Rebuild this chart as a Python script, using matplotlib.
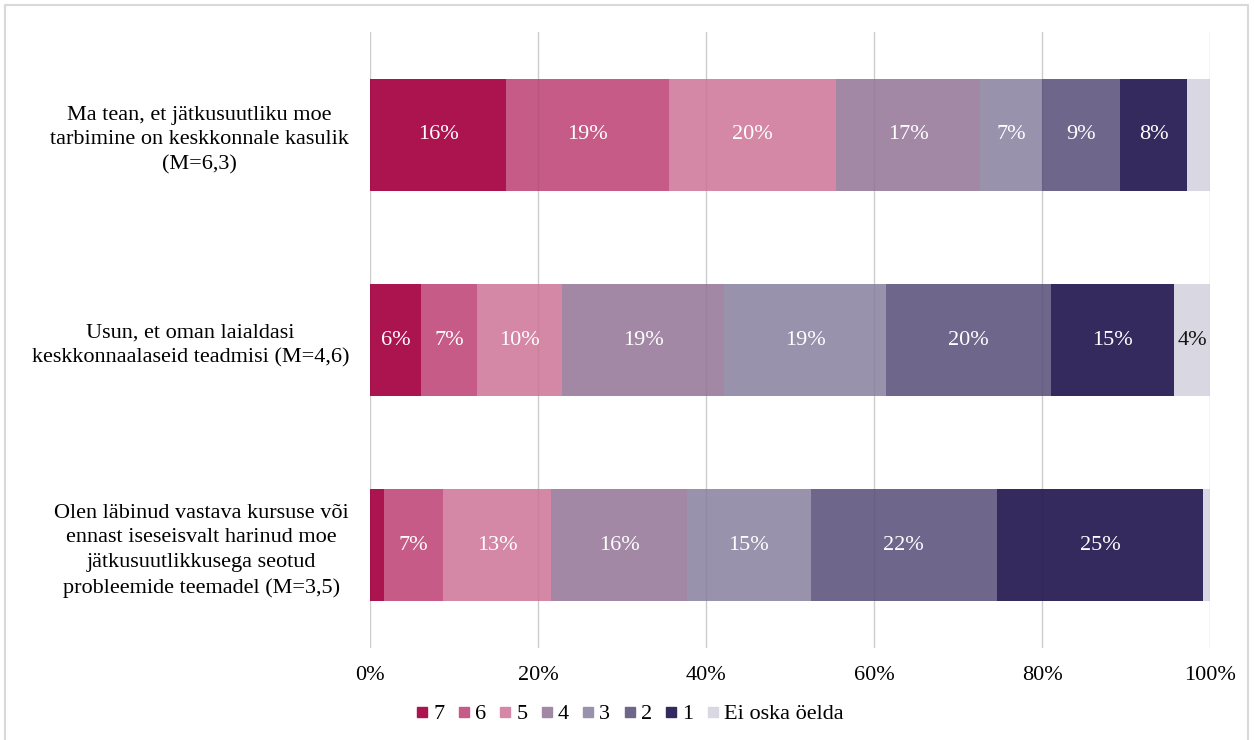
import numpy as np
import matplotlib
matplotlib.use("Agg")
import matplotlib.pyplot as plt
from matplotlib.lines import Line2D

plt.rcParams["font.family"] = ["Liberation Serif", "DejaVu Serif"]

# ── Data ──────────────────────────────────────────────────────────
categories = [
    "Ma tean, et jätkusuutliku moe\ntarbimine on keskkonnale kasulik\n(M=6,3)",
    "Usun, et oman laialdasi\nkeskkonnaalaseid teadmisi (M=4,6)",
    "Olen läbinud vastava kursuse või\nennast iseseisvalt harinud moe\njätkusuutlikkusega seotud\nprobleemide teemadel (M=3,5)",
]
series_names = ["7", "6", "5", "4", "3", "2", "1", "Ei oska öelda"]
# shares (%) per category, one list per answer option
s7 = [16.2, 6.1, 1.7]
s6 = [19.4, 6.6, 7.0]
s5 = [19.9, 10.2, 12.9]
s4 = [17.1, 19.3, 16.1]
s3 = [7.4, 19.2, 14.8]
s2 = [9.3, 19.7, 22.1]
s1 = [8.0, 14.6, 24.6]
s_ei = [2.7, 4.3, 0.8]
series = [s7, s6, s5, s4, s3, s2, s1, s_ei]

colors = ["#AC1450", "#C55B86", "#D588A5", "#A388A6",
          "#9892AC", "#6E678B", "#342A5E", "#D9D8E2"]
label_colors = ["white"] * 7 + ["#111111"]
FS = 16

# ── Figure ────────────────────────────────────────────────────────
fig = plt.figure(figsize=(12.54, 7.40), dpi=100)
ax = fig.add_axes([370 / 1254, 1 - 648 / 740, 840 / 1254, 616 / 740])

y = np.arange(len(categories))
left = np.zeros(len(categories))
for vals, name, col, lcol in zip(series, series_names, colors, label_colors):
    vals = np.array(vals)
    ax.barh(y, vals, left=left, height=0.545, color=col, label=name, zorder=3)
    for yi, v, l in zip(y, vals, left):
        if v >= 3:
            ax.text(l + v / 2, yi, f"{v:.0f}%", ha="center", va="center",
                    color=lcol, fontsize=FS, zorder=5)
    left += vals

ticks = np.arange(0, 101, 20)
ax.set_xlim(0, 100)
ax.set_ylim(len(categories) - 0.5, -0.5)
ax.set_xticks(ticks)
ax.set_xticklabels([f"{t}%" for t in ticks], fontsize=FS)
ax.set_yticks(y)
ax.set_yticklabels(categories, fontsize=FS, multialignment="center",
                   linespacing=1.4)
ax.tick_params(axis="both", length=0)
ax.tick_params(axis="x", pad=13)
ax.tick_params(axis="y", pad=15)
ax.grid(axis="x", color="#D9D9D9", linewidth=1, zorder=0)
# faint gridlines showing through the bars
for t in ticks:
    ax.axvline(t, color="black", alpha=0.05, linewidth=1, zorder=4)
for sp in ax.spines.values():
    sp.set_visible(False)

handles = [Line2D([], [], marker="s", linestyle="none", markersize=7.5,
                  markerfacecolor=c, markeredgecolor=c) for c in colors]
ax.legend(handles, series_names, loc="center",
          bbox_to_anchor=(630 / 1254, 1 - 714 / 740),
          bbox_transform=fig.transFigure, ncol=8, frameon=False,
          fontsize=FS, handlelength=0.5, handletextpad=0.25,
          columnspacing=0.62)

# light frame round the chart (bottom edge falls outside the image)
frame_x = [5 / 1254, 5 / 1254, 1248 / 1254, 1248 / 1254]
frame_y = [-0.05, 1 - 5 / 740, 1 - 5 / 740, -0.05]
fig.add_artist(Line2D(frame_x, frame_y, transform=fig.transFigure,
                      color="#D9D9D9", linewidth=1.5))

fig.savefig("out.png", dpi=100)
